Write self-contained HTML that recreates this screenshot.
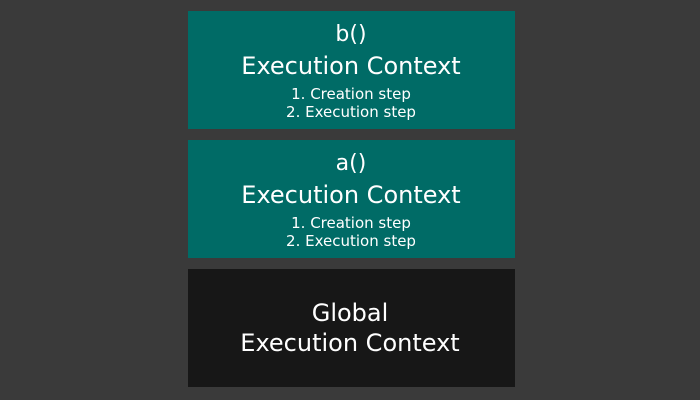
<!DOCTYPE html>
<html><head><meta charset="utf-8"><style>
html,body{margin:0;padding:0;background:#3a3a3a;width:700px;height:400px;overflow:hidden}
text{font-family:"DejaVu Sans","Liberation Sans",sans-serif;fill:#fff}
</style></head><body>
<svg width="700" height="400" xmlns="http://www.w3.org/2000/svg">
<rect width="700" height="400" fill="#3a3a3a"/>
<rect x="188" y="11" width="327" height="118" fill="#006b66"/>
<rect x="188" y="140" width="327" height="118" fill="#006b66"/>
<rect x="188" y="269" width="327" height="118" fill="#171717"/>
<g text-anchor="middle">
<text x="351" y="41" font-size="22">b()</text>
<text x="351" y="74" font-size="24">Execution Context</text>
<text x="351" y="99" font-size="15">1. Creation step</text>
<text x="351" y="117" font-size="15">2. Execution step</text>
<text x="351" y="170" font-size="22">a()</text>
<text x="351" y="203" font-size="24">Execution Context</text>
<text x="351" y="228" font-size="15">1. Creation step</text>
<text x="351" y="246" font-size="15">2. Execution step</text>
<text x="350" y="321" font-size="24">Global</text>
<text x="350" y="351" font-size="24">Execution Context</text>
</g>
</svg>
</body></html>
